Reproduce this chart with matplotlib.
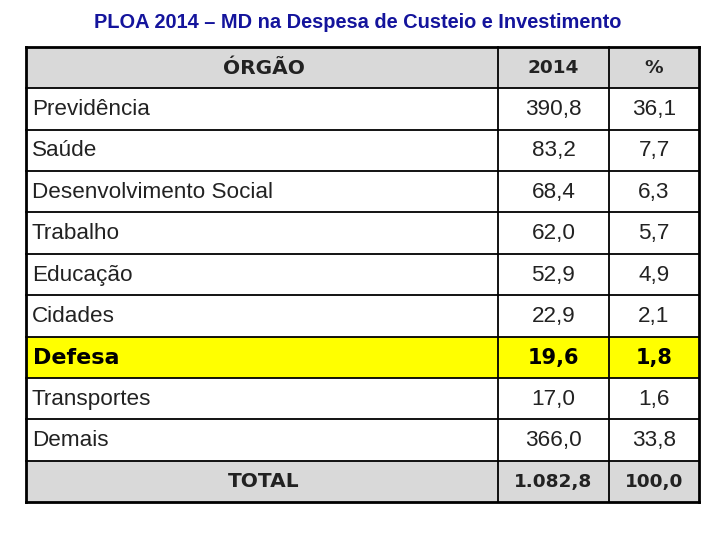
import matplotlib
matplotlib.use("Agg")
import matplotlib.pyplot as plt
from matplotlib.patches import Rectangle

title = "PLOA 2014 – MD na Despesa de Custeio e Investimento"
headers = ["ÓRGÃO", "2014", "%"]
categories = ["Previdência", "Saúde", "Desenvolvimento Social", "Trabalho", "Educação",
              "Cidades", "Defesa", "Transportes", "Demais"]
values_2014 = ["390,8", "83,2", "68,4", "62,0", "52,9", "22,9", "19,6", "17,0", "366,0"]
percents = ["36,1", "7,7", "6,3", "5,7", "4,9", "2,1", "1,8", "1,6", "33,8"]
total_label = "TOTAL"
total_value = "1.082,8"
total_pct = "100,0"
highlight = "Defesa"

plt.rcParams['font.family'] = ['Liberation Sans', 'DejaVu Sans']
BOLDF = ['DejaVu Sans']

fig = plt.figure(figsize=(7.2, 5.4), dpi=100)
ax = fig.add_axes([0, 0, 1, 1])
ax.set_xlim(0, 720)
ax.set_ylim(540, 0)
ax.axis('off')

fig.text(0.497, 1 - 23 / 540, title, ha='center', va='center', fontsize=14.4,
         fontweight='bold', color='#14149c')

left, right = 26, 699
top, bottom = 47, 502
col_x = [left, 498, 609, right]
nrows = len(categories) + 2
rh = (bottom - top) / nrows
gray = '#d9d9d9'
txt = '#222222'

rows = [(headers[0], headers[1], headers[2], 'header')]
for c, v, p in zip(categories, values_2014, percents):
    rows.append((c, v, p, 'hl' if c == highlight else 'body'))
rows.append((total_label, total_value, total_pct, 'total'))

for i, (c, v, p, kind) in enumerate(rows):
    y0 = top + i * rh
    yc = y0 + rh / 2 + 0.5
    face = {'header': gray, 'total': gray, 'hl': '#ffff00', 'body': 'white'}[kind]
    ax.add_patch(Rectangle((left, y0), right - left, rh, facecolor=face,
                           edgecolor='none', zorder=1))
    if kind in ('header', 'total'):
        ax.text((col_x[0] + col_x[1]) / 2 + 2, yc, c, ha='center', va='center',
                fontsize=14.5, fontweight='bold', family=BOLDF, color=txt, zorder=3)
        ax.text((col_x[1] + col_x[2]) / 2, yc, v, ha='center', va='center',
                fontsize=13.3, fontweight='bold', family=BOLDF, color=txt, zorder=3)
        ax.text((col_x[2] + col_x[3]) / 2, yc, p, ha='center', va='center',
                fontsize=13.3, fontweight='bold', family=BOLDF, color=txt, zorder=3)
    elif kind == 'hl':
        ax.text(left + 7, yc, c, ha='left', va='center', fontsize=16,
                fontweight='bold', family=BOLDF, color='black', zorder=3)
        ax.text((col_x[1] + col_x[2]) / 2, yc, v, ha='center', va='center',
                fontsize=15, fontweight='bold', family=BOLDF, color='black', zorder=3)
        ax.text((col_x[2] + col_x[3]) / 2, yc, p, ha='center', va='center',
                fontsize=15, fontweight='bold', family=BOLDF, color='black', zorder=3)
    else:
        ax.text(left + 6, yc, c, ha='left', va='center', fontsize=16.2,
                color=txt, zorder=3)
        ax.text((col_x[1] + col_x[2]) / 2, yc, v, ha='center', va='center',
                fontsize=16.2, color=txt, zorder=3)
        ax.text((col_x[2] + col_x[3]) / 2, yc, p, ha='center', va='center',
                fontsize=16.2, color=txt, zorder=3)

# grid lines
for i in range(nrows + 1):
    y = top + i * rh
    lw = 2.0 if i in (0, nrows) else 1.3
    ax.plot([left, right], [y, y], color='black', lw=lw, zorder=2,
            solid_capstyle='projecting')
for j, x in enumerate(col_x):
    lw = 2.0 if j in (0, len(col_x) - 1) else 1.3
    ax.plot([x, x], [top, bottom], color='black', lw=lw, zorder=2,
            solid_capstyle='projecting')

fig.savefig('out.png', dpi=100)
